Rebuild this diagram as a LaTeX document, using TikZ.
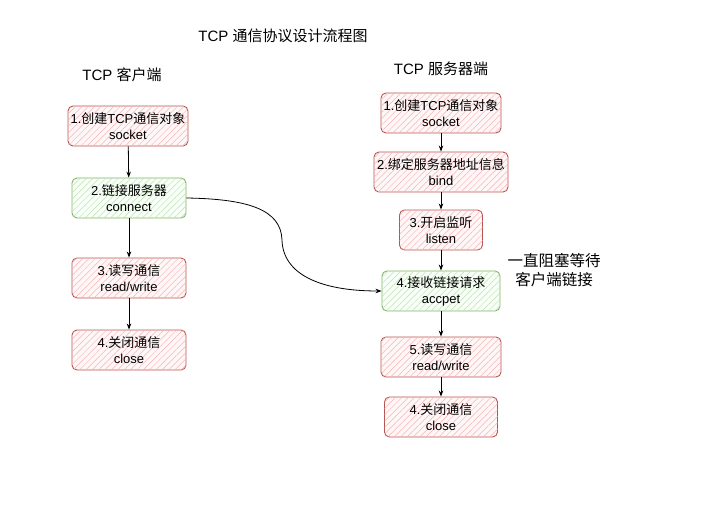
\documentclass[tikz,border=0pt]{standalone}
\usepackage{fontspec}
\setmainfont{Liberation Sans}
\newfontfamily\zh{Noto Sans CJK SC}
\usetikzlibrary{arrows.meta,patterns.meta}
\definecolor{redstroke}{HTML}{B85450}
\definecolor{redhatch}{HTML}{F4B6B4}
\definecolor{greenstroke}{HTML}{82B366}
\definecolor{greenhatch}{HTML}{C3DFB9}
\tikzset{
  box/.style={draw, rounded corners=5pt, line width=0.9pt, align=center,
    minimum height=40pt, inner sep=2pt, font=\fontsize{13}{16}\selectfont},
  redbox/.style={box, draw=redstroke, fill=red!3,
    postaction={pattern={Lines[angle=45,distance=4.5pt,line width=0.5pt]}, pattern color=redhatch}},
  greenbox/.style={box, draw=greenstroke, fill=green!3,
    postaction={pattern={Lines[angle=45,distance=4.5pt,line width=0.5pt]}, pattern color=greenhatch}},
  conn/.style={draw, line width=0.8pt, -{Stealth[length=6pt,width=4.5pt]}},
  titletext/.style={font=\fontsize{15}{18}\selectfont, inner sep=0pt},
}
\begin{document}
\begin{tikzpicture}[x=1pt,y=-1pt]
\useasboundingbox (0,0) rectangle (718,513);
% titles
\node[titletext] (title) at (283,36) {TCP {\zh 通信协议设计流程图}};
\node[titletext] (ctitle) at (122,75) {TCP {\zh 客户端}};
\node[titletext] (stitle) at (441,69) {TCP {\zh 服务器端}};
% client
\node[redbox, minimum width=120pt] (c1) at (128,126) {1.{\zh 创建}TCP{\zh 通信对象}\\socket};
\node[greenbox, minimum width=114pt] (c2) at (129,198) {2.{\zh 链接服务器}\\connect};
\node[redbox, minimum width=114pt] (c3) at (129,278) {3.{\zh 读写通信}\\read/write};
\node[redbox, minimum width=114pt] (c4) at (129,350) {4.{\zh 关闭通信}\\close};
% server
\node[redbox, minimum width=120pt] (s1) at (441,113) {1.{\zh 创建}TCP{\zh 通信对象}\\socket};
\node[redbox, minimum width=134pt] (s2) at (441,172) {2.{\zh 绑定服务器地址信息}\\bind};
\node[redbox, minimum width=83pt] (s3) at (441,230) {3.{\zh 开启监听}\\listen};
\node[greenbox, minimum width=118pt] (s4) at (441,291) {4.{\zh 接收链接请求}\\accpet};
\node[redbox, minimum width=120pt] (s5) at (441,357) {5.{\zh 读写通信}\\read/write};
\node[redbox, minimum width=113pt] (s6) at (441,417) {4.{\zh 关闭通信}\\close};
% side note
\node[titletext, align=center, font=\fontsize{15.5}{19}\selectfont\zh] (note) at (554,270) {一直阻塞等待\\客户端链接};
% connectors
\coordinate (bend) at (282,240);
\draw[conn] (c1) -- (c2);
\draw[conn] (c2) -- (c3);
\draw[conn] (c3) -- (c4);
\draw[conn] (s1) -- (s2);
\draw[conn] (s2) -- (s3);
\draw[conn] (s3) -- (s4);
\draw[conn] (s4) -- (s5);
\draw[conn] (s5) -- (s6);
\draw[conn] (c2.east) .. controls +(63,1) and +(-1,-30) .. (bend)
  .. controls +(1,35) and +(-60,0) .. (s4.west);
\end{tikzpicture}
\end{document}
